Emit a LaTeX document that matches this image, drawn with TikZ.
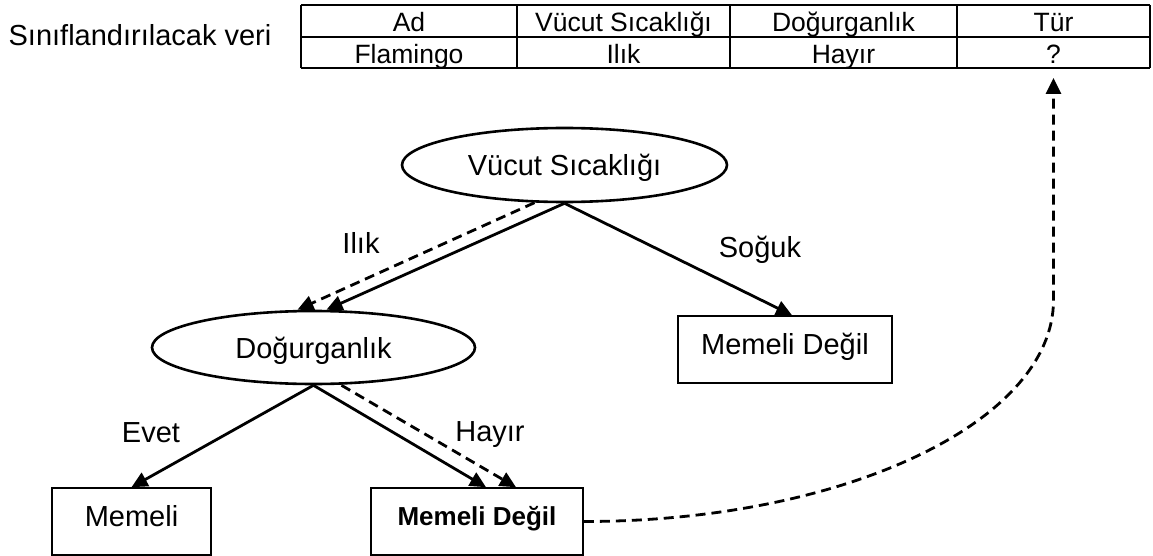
\documentclass[tikz,border=0pt]{standalone}
\usepackage{fontspec}
\setmainfont{Liberation Sans}
\usetikzlibrary{arrows.meta,shapes.geometric,calc}
\begin{document}
\begin{tikzpicture}[x=1pt,y=-1pt,
  lbl/.style={inner sep=0pt, font=\fontsize{29}{34}\selectfont, text height=21pt, text depth=0pt},
  celltxt/.style={inner sep=0pt, font=\fontsize{26.5}{31}\selectfont, text height=19pt, text depth=0pt},
  oval/.style={ellipse, draw, line width=2.6pt, inner sep=0pt,
    minimum width=325pt, minimum height=74pt,
    font=\fontsize{29}{34}\selectfont, text height=21pt, text depth=0pt},
  leaf/.style={rectangle, draw, line width=1.6pt, inner sep=0pt,
    minimum width=#1, minimum height=67pt,
    font=\fontsize{29}{34}\selectfont, text height=21pt, text depth=12pt},
  boldleaf/.style={leaf=#1, font=\bfseries\fontsize{26}{31}\selectfont,
    text height=19pt, text depth=12pt},
  edge/.style={line width=2.8pt, -{Triangle[width=15pt,length=16pt]}},
  flow/.style={edge, dash pattern=on 10pt off 6pt},
  thinrule/.style={line width=1.8pt},
  thickrule/.style={line width=2.8pt}
]
% canvas
\fill[white] (0,0) rectangle (1153,556);
\useasboundingbox (0,0) rectangle (1153,556);

% data record to be classified
\node[lbl] (caption) at (140,35.5) {Sınıflandırılacak veri};
\draw[thickrule] (301,5) -- (1150,5);
\draw[thinrule] (301,37) -- (1150,37);
\draw[thickrule] (301,68) -- (1150,68);
\foreach \cx in {301,517,730,957,1150}
  \draw[thinrule] (\cx,5) -- (\cx,68);
\node[celltxt] (h1) at (409,22.5)    {Ad};
\node[celltxt] (h2) at (623.5,22.5)  {Vücut Sıcaklığı};
\node[celltxt] (h3) at (843.5,22.5)  {Doğurganlık};
\node[celltxt] (h4) at (1053.5,22.5) {Tür};
\node[celltxt] (r1) at (409,54)      {Flamingo};
\node[celltxt] (r2) at (623.5,54)    {Ilık};
\node[celltxt] (r3) at (843.5,54)    {Hayır};
\node[celltxt] (q)  at (1053.5,54)   {?};
\coordinate (qtip) at (1053.5,78);

% decision tree
\node[oval] (vs) at (564.5,165)   {Vücut Sıcaklığı};
\node[oval, minimum width=323pt, minimum height=73pt] (dg) at (313.5,347.5) {Doğurganlık};
\node[leaf=214pt] (nm1) at (785,349.5) {Memeli Değil};
\node[leaf=159pt] (mm)  at (131.5,521.5) {Memeli};
\node[boldleaf=212pt] (nm2) at (477,521.5) {Memeli Değil};

% branch labels
\node[lbl] (lw) at (361,243) {Ilık};
\node[lbl] (lc) at (760,247) {Soğuk};
\node[lbl] (ly) at (151,432) {Evet};
\node[lbl] (ln) at (490,431) {Hayır};

% tree branches
\draw[edge] (vs.south) -- ($(dg.north)+(13,0)$);
\draw[edge] (vs.south) -- ($(nm1.north)+(7,0)$);
\draw[edge] (dg.south) -- (mm.north);
\draw[edge] (dg.south) -- ($(nm2.north)+(9,0)$);

% path followed by the record
\draw[flow] ($(vs.south)+(-30,-0.6)$) -- ($(dg.north)+(-16,0)$);
\draw[flow] ($(dg.south)+(28,0)$) -- ($(nm2.north)+(39,0)$);
\coordinate (bend) at (1053.5,300);
\draw[flow] (nm2.east) .. controls +(260,0) and +(0,122) .. (bend) -- (qtip);
\end{tikzpicture}
\end{document}
